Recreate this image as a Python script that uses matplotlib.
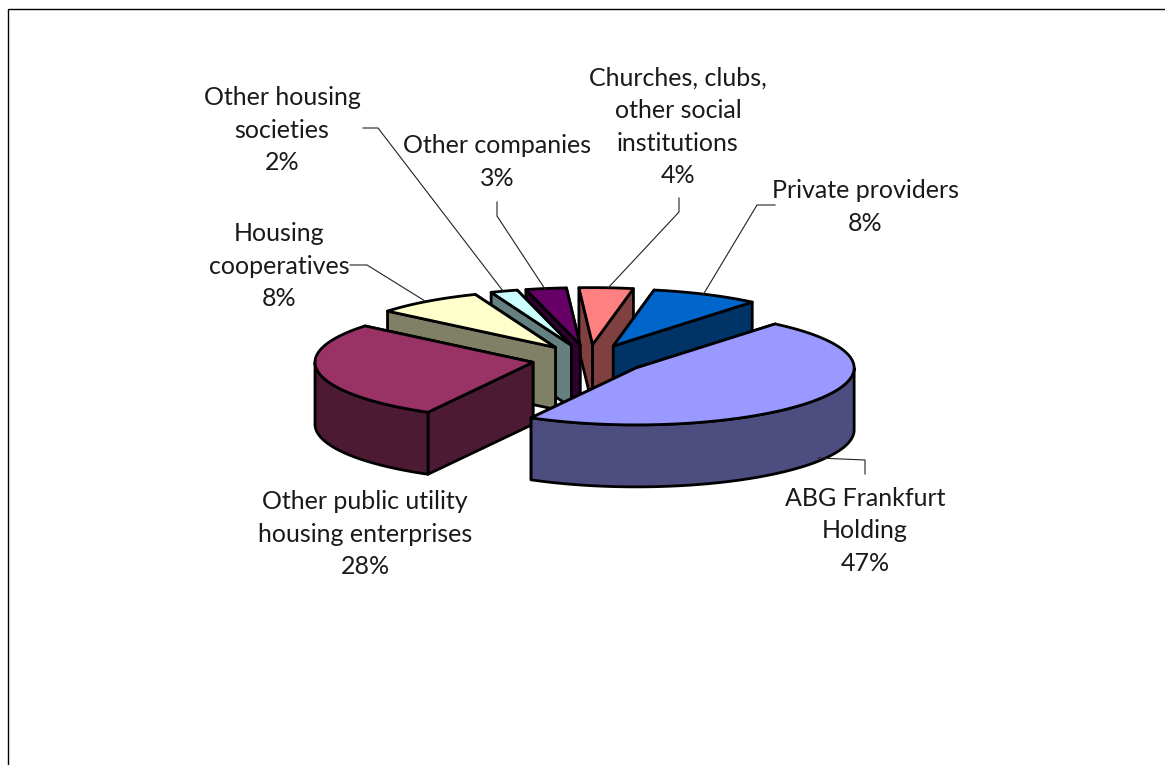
import numpy as np
import matplotlib
matplotlib.use("Agg")
import matplotlib.pyplot as plt

# shares in percent, clockwise, first slice sits just left of 12 o'clock
names = ["Churches, clubs,\nother social\ninstitutions", "Private providers", "ABG Frankfurt\nHolding",
         "Other public utility\nhousing enterprises", "Housing\ncooperatives",
         "Other housing\nsocieties", "Other companies"]
shares = [4, 8, 47, 28, 8, 2, 3]
top_colors = ["#FF8080", "#0066CC", "#9999FF", "#993366", "#FFFFCC", "#CCFFFF", "#660066"]
side_colors = ["#804040", "#003366", "#4D4D80", "#4D1A33", "#808066", "#668080", "#330033"]

label_x = [678, 865, 865, 365, 279, 282, 497]
label_y = [127, 207, 531, 534, 266, 130, 162]

# label leader lines in picture pixels
leaders = [
    ([679, 679, 608], [198, 212, 288]),
    ([775, 757, 703], [205, 205, 295]),
    ([865, 865, 818], [474, 460, 458]),
    ([350, 367, 425], [265, 265, 301]),
    ([363, 378, 503], [128, 128, 291]),
    ([497, 497, 545], [202, 216, 289]),
]

START = -3.6
CX, CY = 589, 359.5
RX, RY = 218, 57
DEPTH = 62
EXPLODE = 57 / 218


def project(angle, radius=1.0, origin=(0, 0)):
    # angle in degrees clockwise from the top, y grows downwards
    a = np.radians(angle)
    return origin[0] + radius * RX * np.sin(a), origin[1] - radius * RY * np.cos(a)


fig = plt.figure(figsize=(11.65, 7.65), dpi=100)
ax = fig.add_axes([0, 0, 1, 1])
ax.set_xlim(0, 1165)
ax.set_ylim(765, 0)
ax.axis("off")

ax.plot([8, 8, 1165], [765, 8.5, 8.5], color="black", lw=1.0, solid_joinstyle="miter")

edges = START + np.cumsum([0] + shares) * 3.6
slices = []
for i in range(len(shares)):
    a0, a1 = edges[i], edges[i + 1]
    middle = (a0 + a1) / 2
    apex = project(middle, EXPLODE, (CX, CY))
    slices.append((apex[1], i, a0, a1, apex))
slices.sort(key=lambda s: s[0])

style = dict(edgecolor="black", linewidth=2.0, joinstyle="round")
for _, i, a0, a1, apex in slices:
    ox, oy = apex
    x0, y0 = project(a0, 1.0, apex)
    x1, y1 = project(a1, 1.0, apex)

    # hidden cut faces go first so the visible ones sit on top of them
    faces = [(np.sin(np.radians(a0)) < 0, x0, y0), (np.sin(np.radians(a1)) > 0, x1, y1)]
    for visible, x, y in sorted(faces, key=lambda f: f[0]):
        ax.fill([ox, x, x, ox], [oy, y, y + DEPTH, oy + DEPTH], facecolor=side_colors[i], **style)

    # outer rim, front half only
    steps = np.arange(a0, a1, 0.5).tolist() + [a1]
    front = [a for a in steps if np.cos(np.radians(a)) <= 0]
    if len(front) > 1:
        rx, ry = project(np.array(front), 1.0, apex)
        ax.fill(np.r_[rx, rx[::-1]], np.r_[ry, ry[::-1] + DEPTH], facecolor=side_colors[i], **style)

    tx, ty = project(np.array(steps), 1.0, apex)
    ax.fill(np.r_[ox, tx], np.r_[oy, ty], facecolor=top_colors[i], **style)

for xs, ys in leaders:
    ax.plot(xs, ys, color="#222222", lw=0.8, zorder=1.5)

for name, share, x, y in zip(names, shares, label_x, label_y):
    ax.text(x, y, f"{name}\n{share}%", ha="center", va="center", family="Lato",
            fontsize=18, color="#1a1a1a", linespacing=1.5)

fig.savefig("out.png", dpi=100)
